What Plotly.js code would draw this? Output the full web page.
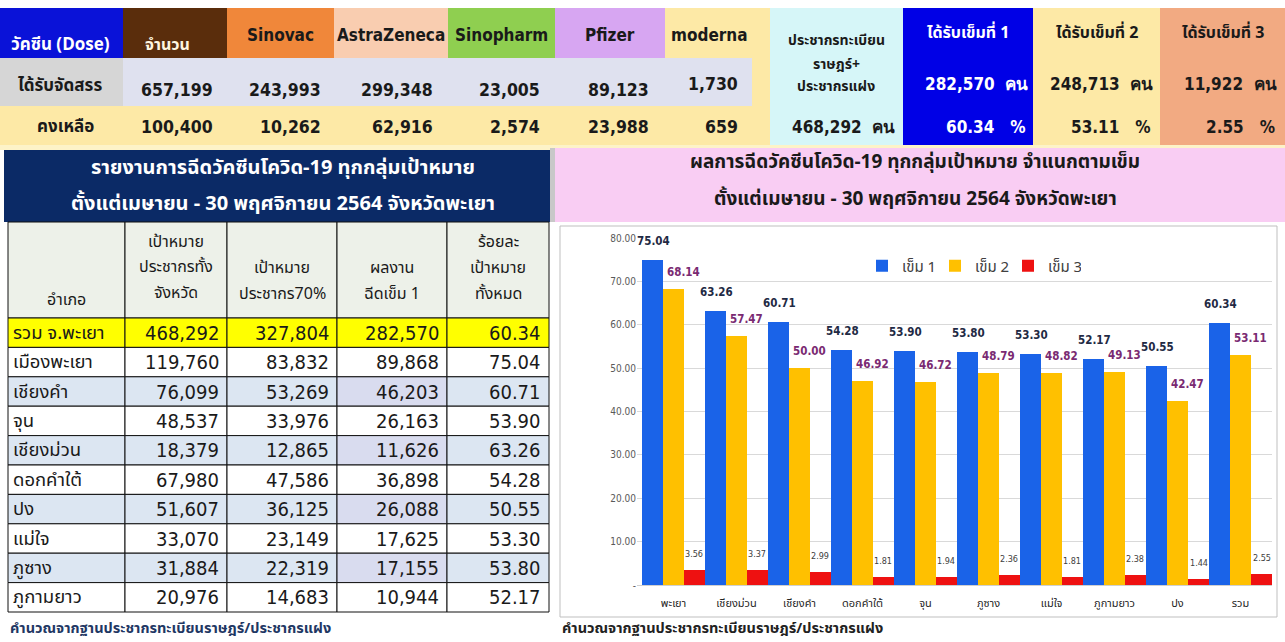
<!DOCTYPE html>
<html><head><meta charset="utf-8">
<script src="https://cdn.plot.ly/plotly-3.0.1.min.js"></script>
<style>html,body{margin:0;padding:0;background:#fff;}#chart{width:1285px;height:642px;}</style>
</head><body><div id="chart"></div>
<script>
// ---------- DATA ----------
const vaccineNames = ['จำนวน','Sinovac','AstraZeneca','Sinopharm','Pfizer','moderna'];
const allocated = [657199, 243993, 299348, 23005, 89123, 1730];
const remaining = [100400, 10262, 62916, 2574, 23988, 659];
const registeredPop = 468292;
const doseTitles = ['ได้รับเข็มที่ 1','ได้รับเข็มที่ 2','ได้รับเข็มที่ 3'];
const doseCounts = [282570, 248713, 11922];
const dosePercents = [60.34, 53.11, 2.55];

const tableHeaders = [['อำเภอ'],['เป้าหมาย','ประชากรทั้ง','จังหวัด'],['เป้าหมาย','ประชากร70%'],['ผลงาน','ฉีดเข็ม 1'],['ร้อยละ','เป้าหมาย','ทั้งหมด']];
const districts = ['รวม จ.พะเยา','เมืองพะเยา','เชียงคำ','จุน','เชียงม่วน','ดอกคำใต้','ปง','แม่ใจ','ภูซาง','ภูกามยาว'];
const targetAll = [468292,119760,76099,48537,18379,67980,51607,33070,31884,20976];
const target70 = [327804,83832,53269,33976,12865,47586,36125,23149,22319,14683];
const dose1Done = [282570,89868,46203,26163,11626,36898,26088,17625,17155,10944];
const pctTarget = [60.34,75.04,60.71,53.90,63.26,54.28,50.55,53.30,53.80,52.17];

const chartCategories = ['พะเยา','เชียงม่วน','เชียงคำ','ดอกคำใต้','จุน','ภูซาง','แม่ใจ','ภูกามยาว','ปง','รวม'];
const dose1Pct = [75.04,63.26,60.71,54.28,53.90,53.80,53.30,52.17,50.55,60.34];
const dose2Pct = [68.14,57.47,50.00,46.92,46.72,48.79,48.82,49.13,42.47,53.11];
const dose3Pct = [3.56,3.37,2.99,1.81,1.94,2.36,1.81,2.38,1.44,2.55];
const seriesNames = ['เข็ม 1','เข็ม 2','เข็ม 3'];
const yTickVals = [0,10,20,30,40,50,60,70,80];
const yTickText = ['-','10.00','20.00','30.00','40.00','50.00','60.00','70.00','80.00'];

const titleLeft = ['รายงานการฉีดวัคซีนโควิด-19 ทุกกลุ่มเป้าหมาย','ตั้งแต่เมษายน - 30 พฤศจิกายน 2564 จังหวัดพะเยา'];
const titleRight = ['ผลการฉีดวัคซีนโควิด-19 ทุกกลุ่มเป้าหมาย จำแนกตามเข็ม','ตั้งแต่เมษายน - 30 พฤศจิกายน 2564 จังหวัดพะเยา'];
const footnote = 'คำนวณจากฐานประชากรทะเบียนราษฎร์/ประชากรแฝง';

// ---------- LAYOUT HELPERS ----------
const W=1285,H=642;
const FN = "'DejaVu Sans Condensed','Liberation Sans Narrow','Liberation Sans',sans-serif";
const FT = "Tahoma,'Noto Sans Thai','Leelawadee UI','Liberation Sans','Noto Sans',sans-serif";
const px=x=>x/W, py=y=>1-y/H;
const fmt=n=>n.toLocaleString('en-US');
const shapes=[], ann=[];
function rect(x0,y0,x1,y1,fill,line){shapes.push({type:'rect',xref:'paper',yref:'paper',x0:px(x0),x1:px(x1),y0:py(y1),y1:py(y0),fillcolor:fill,line:line||{width:0},layer:'below'});}
function txt(x,y,t,size,color,opts){ann.push(Object.assign({xref:'paper',yref:'paper',x:px(x),y:py(y),text:t,showarrow:false,xanchor:'center',yanchor:'middle',font:{family:(opts&&opts.family)||FT,size:size,color:color}},opts||{}));}
function bold(s){return '<b>'+s+'</b>';}

// ---------- TOP TABLE ----------
const colX=[0,123,227,334,448,555,665,770,903,1033,1160,1285];
const vacFill=['#5a2d0c','#f0873a','#f9cdb0','#8fcf50','#d7a6f2','#fde9a6'];
rect(0,106,770,145,'#fde9a6');
rect(665,8,770,145,'#fde9a6');
rect(0,8,123,58,'#0a12d8');
for(let i=0;i<6;i++) rect(colX[i+1],8,colX[i+2],58,vacFill[i]);
rect(0,58,123,106,'#d6d6d6');
rect(123,58,752,106,'#dfe1ef');
rect(770,8,903,145,'#d6f6f8');
rect(903,8,1033,145,'#0000e6');
rect(1033,8,1160,145,'#fde9a6');
rect(1160,8,1285,145,'#f2aa82');

txt(60,45,bold('วัคซีน (Dose)'),17,'#ffffff');
txt(60,86,bold('ได้รับจัดสรร'),17,'#1a1a1a');
txt(65,127,bold('คงเหลือ'),17,'#1a1a1a');
const headY=[45,35,35,35,35,35];
const headColor=['#fff6e0','#1a1a1a','#1a1a1a','#1a1a1a','#1a1a1a','#1a1a1a'];
const valRight=[215,323,435,542,651,740];
for(let i=0;i<6;i++){
  const cx=(colX[i+1]+colX[i+2])/2 + (i===5?-8:0) + (i===0?-8:0);
  txt(cx,headY[i],bold(vaccineNames[i]),i===0?16:17,headColor[i],{family:i===0?FT:FN});
  txt(valRight[i],i===5?84:90,bold(fmt(allocated[i])),17.5,'#1a1a1a',{xanchor:'right',family:FN});
  txt(valRight[i],127,bold(fmt(remaining[i])),17.5,'#1a1a1a',{xanchor:'right',family:FN});
}
txt(836,40,bold('ประชากรทะเบียน'),14,'#1a1a1a');
txt(836,64,bold('ราษฎร์+'),14,'#1a1a1a');
txt(836,87,bold('ประชากรแฝง'),14,'#1a1a1a');
txt(897,127,bold(fmt(registeredPop)+'&nbsp;&nbsp;คน'),17,'#1a1a1a',{xanchor:'right',family:FN});
const doseRight=[1030,1155,1279];
const doseTxtColor=['#ffffff','#1a1a1a','#1a1a1a'];
for(let i=0;i<3;i++){
  const cx=(colX[8+i]+colX[9+i])/2;
  txt(cx,33,bold(doseTitles[i]),16,doseTxtColor[i]);
  txt(doseRight[i],84,bold(fmt(doseCounts[i])+'&nbsp;&nbsp;คน'),17,doseTxtColor[i],{xanchor:'right',family:FN});
  txt(doseRight[i]-2,127,bold(dosePercents[i].toFixed(2)+'&nbsp;&nbsp;&nbsp;%'),17,doseTxtColor[i],{xanchor:'right',family:FN});
}

// ---------- BANNERS ----------
rect(0,145,1285,150,'#fdf3c8');
rect(4,150,550,222,'#0b2a66');
rect(550,148,555,222,'#c8c8c8');
rect(555,148,1285,222,'#f9cdf3');
txt(283,168,bold(titleLeft[0]),20,'#ffffff');
txt(283,204,bold(titleLeft[1]),20,'#ffffff');
txt(915,163,bold(titleRight[0]),19,'#1a1a1a');
txt(915,199,bold(titleRight[1]),19,'#1a1a1a');

// ---------- LEFT TABLE ----------
const tX=[8,125,227,337,447,549];
const tTop=222, tHeadBot=318, rowH=29.4;
const border={color:'#111',width:1};
for(let c=0;c<5;c++) rect(tX[c],tTop,tX[c+1],tHeadBot,'#edf1e9',border);
const headLines={0:[300],1:[242,267,293],2:[268,294],3:[268,294],4:[242,268,294]};
for(let c=0;c<5;c++){
  tableHeaders[c].forEach((l,k)=>txt((tX[c]+tX[c+1])/2,headLines[c][k],l,16,'#1a1a1a'));
}
const cols=[targetAll,target70,dose1Done,pctTarget];
for(let r=0;r<districts.length;r++){
  const y0=tHeadBot+r*rowH, y1=y0+rowH, yc=(y0+y1)/2;
  for(let c=0;c<5;c++){
    const fill = r===0?'#ffff00':(r%2===0?(c===3?'#d9dcef':'#dce6f2'):'#ffffff');
    rect(tX[c],y0,tX[c+1],y1,fill,border);
  }
  txt(11,yc,districts[r],18.5,'#1a1a1a',{xanchor:'left'});
  for(let c=0;c<4;c++){
    const v=cols[c][r];
    const s = c===3? v.toFixed(2) : fmt(v);
    txt(tX[c+2]-6,yc,s,20,'#1a1a1a',{xanchor:'right',family:FN});
  }
}
txt(8,629,bold(footnote),14.5,'#1f3864',{xanchor:'left'});
txt(560,629,bold(footnote),14.5,'#222222',{xanchor:'left'});

// ---------- CHART PANEL ----------
rect(560,226,1277,617,'#ffffff',{color:'#bfbfbf',width:1});

const colors=['#1a63e8','#ffc000','#ee1111'];
const series=[dose1Pct,dose2Pct,dose3Pct];
const traces=series.map((s,i)=>({type:'bar',name:seriesNames[i],x:chartCategories,y:s,marker:{color:colors[i]},hoverinfo:'skip'}));

const lblStyle=[{size:11.5,color:'#1f2a44',shift:[1,19],b:true},{size:11.5,color:'#7a2a72',shift:[10,17],b:true},{size:9,color:'#404040',shift:[0,16],b:false}];
series.forEach((s,i)=>{
  s.forEach((v,k)=>{
    const st=lblStyle[i];
    ann.push({xref:'x',yref:'y',x:chartCategories[k],y:v,text:st.b?bold(v.toFixed(2)):v.toFixed(2),showarrow:false,
      xshift:(i-1)*21+st.shift[0],yshift:st.shift[1],xanchor:'center',yanchor:'middle',
      font:{family:FN,size:st.size,color:st.color}});
  });
});

const layout={
  width:W,height:H,margin:{l:0,r:0,t:0,b:0},paper_bgcolor:'#ffffff',plot_bgcolor:'rgba(0,0,0,0)',
  barmode:'group',bargap:0,bargroupgap:0,showlegend:true,
  font:{family:FT},
  xaxis:{domain:[px(637),px(1272)],type:'category',range:[-0.579,9.5],showgrid:false,zeroline:false,showline:false,ticks:'',
    tickfont:{family:FT,size:11,color:'#262626'},ticklabelstandoff:10,fixedrange:true},
  yaxis:{domain:[py(585),py(238)],range:[0,80],tickvals:yTickVals,ticktext:yTickText,gridcolor:'#d9d9d9',gridwidth:1,
    zeroline:true,zerolinecolor:'#d0d0d0',showline:false,ticks:'',tickfont:{family:FN,size:10,color:'#595959'},fixedrange:true},
  legend:{orientation:'h',x:px(862),y:py(266),xanchor:'left',yanchor:'middle',font:{family:FT,size:15,color:'#404040'},
    bgcolor:'rgba(255,255,255,0)',entrywidth:28,entrywidthmode:'pixels',itemwidth:30,traceorder:'normal'},
  shapes:shapes,annotations:ann
};
Plotly.newPlot('chart',traces,layout,{displayModeBar:false,staticPlot:true});
</script></body></html>
